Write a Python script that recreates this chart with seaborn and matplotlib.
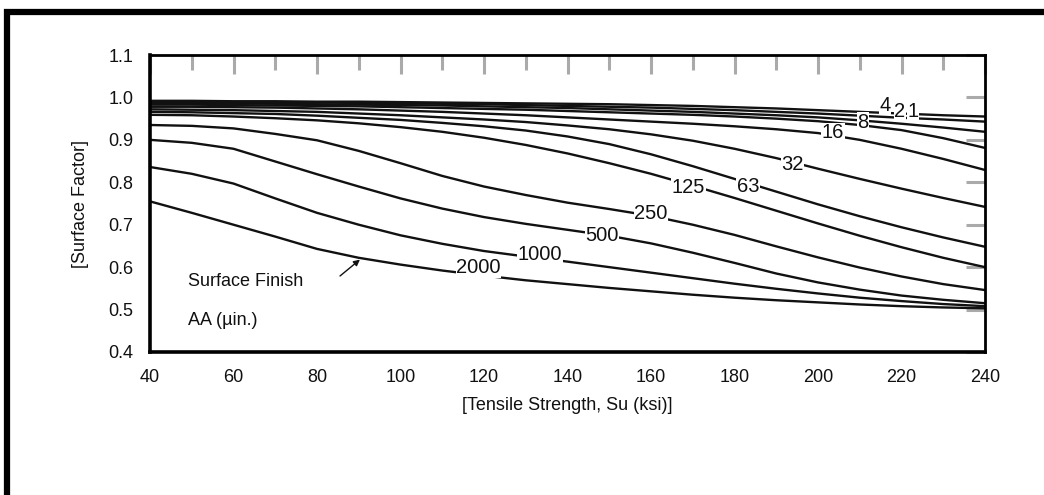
import numpy as np
import pandas as pd
import matplotlib
matplotlib.use("Agg")
import matplotlib.pyplot as plt
from matplotlib.patches import Rectangle
import seaborn as sns

# ---- data ----
su = [40, 50, 60, 70, 80, 90, 100, 110, 120, 130, 140,
      150, 160, 170, 180, 190, 200, 210, 220, 230, 240]
finish = ["1", "2", "4", "8", "16", "32", "63", "125", "250", "500", "1000", "2000"]
f1    = [.992, .992, .991, .991, .990, .990, .989, .988, .987, .986, .985,
         .984, .982, .980, .977, .974, .970, .966, .962, .958, .955]
f2    = [.990, .990, .989, .989, .988, .987, .986, .985, .984, .982, .980,
         .978, .976, .973, .970, .966, .962, .957, .952, .948, .943]
f4    = [.987, .987, .986, .985, .984, .983, .982, .981, .979, .977, .975,
         .972, .969, .966, .962, .958, .953, .946, .938, .929, .919]
f8    = [.983, .983, .982, .981, .980, .979, .977, .975, .973, .971, .968,
         .965, .962, .959, .955, .950, .944, .935, .923, .904, .881]
f16   = [.978, .978, .977, .976, .974, .972, .969, .966, .962, .958, .953,
         .948, .943, .938, .932, .925, .916, .900, .879, .855, .829]
f32   = [.972, .971, .970, .968, .966, .962, .958, .953, .948, .942, .934,
         .925, .913, .898, .879, .857, .832, .808, .785, .763, .742]
f63   = [.966, .965, .963, .961, .957, .952, .947, .940, .932, .922, .908,
         .890, .866, .838, .808, .778, .748, .720, .694, .670, .648]
f125  = [.959, .958, .955, .951, .946, .939, .930, .919, .905, .888, .868,
         .845, .820, .792, .763, .733, .703, .674, .647, .622, .600]
f250  = [.935, .933, .927, .914, .899, .874, .845, .815, .790, .770, .752,
         .737, .721, .700, .676, .649, .623, .599, .578, .560, .546]
f500  = [.900, .893, .879, .849, .819, .790, .762, .738, .718, .702, .688,
         .674, .656, .634, .610, .585, .564, .547, .533, .523, .515]
f1000 = [.836, .820, .797, .762, .728, .700, .675, .655, .638, .625, .613,
         .600, .587, .574, .561, .549, .538, .528, .520, .513, .508]
f2000 = [.755, .728, .700, .672, .643, .622, .606, .592, .580, .569, .560,
         .551, .543, .535, .528, .522, .517, .512, .508, .505, .503]
series = [f1, f2, f4, f8, f16, f32, f63, f125, f250, f500, f1000, f2000]

# curve label positions (Su, factor)
lab_text = ["2000", "1000", "500", "250", "125", "63", "32", "16", "8", "4", "2", "1"]
lab_x    = [118.6, 133.4, 148.3, 160.0, 169.0, 183.2, 193.8, 203.6, 210.8, 216.0, 219.6, 222.8]
lab_y    = [0.598, 0.629, 0.674, 0.727, 0.788, 0.791, 0.843, 0.917, 0.942, 0.982, 0.966, 0.968]

xticks = [40, 60, 80, 100, 120, 140, 160, 180, 200, 220, 240]
yticks = [0.4, 0.5, 0.6, 0.7, 0.8, 0.9, 1.0, 1.1]

df = pd.DataFrame({
    "Su": np.tile(su, len(finish)),
    "factor": np.concatenate(series),
    "finish": np.repeat(finish, len(su)),
})

sns.set_theme(style="white")
plt.rcParams["font.family"] = ["Liberation Sans", "DejaVu Sans"]

fig = plt.figure(figsize=(10.44, 4.95), dpi=100)
ax = fig.add_axes([150/1044, 1-352/495, 835/1044, 297/495])

sns.lineplot(data=df, x="Su", y="factor", hue="finish", units="finish",
             estimator=None, sort=False,
             palette={f: "#111111" for f in finish}, legend=False,
             linewidth=1.7, ax=ax)

ax.set_xlim(40, 240)
ax.set_ylim(0.4, 1.1)
ax.set_xticks(xticks)
ax.set_xticklabels([str(v) for v in xticks])
ax.set_xticks(np.arange(50, 240, 20), minor=True)
ax.set_yticks(yticks)
ax.set_yticklabels([f"{v:.1f}" for v in yticks])

ax.tick_params(axis="both", which="both", direction="in", color="#aaaaaa",
               top=True, right=True, labelsize=13, labelcolor="#111111")
ax.tick_params(axis="both", which="major", length=14, width=2.2)
ax.tick_params(axis="x", which="minor", length=11, width=2.2)
ax.tick_params(axis="x", which="major", pad=12)
ax.tick_params(axis="y", which="major", pad=12)

for side in ["left", "bottom"]:
    ax.spines[side].set_linewidth(2.6)
    ax.spines[side].set_color("black")
for side in ["top", "right"]:
    ax.spines[side].set_linewidth(2.0)
    ax.spines[side].set_color("black")

ax.set_xlabel("[Tensile Strength, Su (ksi)]", fontsize=13, labelpad=8, color="#111111")
ax.set_ylabel("[Surface Factor]", fontsize=13, labelpad=14, color="#111111")

for t, x, y in zip(lab_text, lab_x, lab_y):
    ax.text(x, y, t, fontsize=14.5, ha="center", va="center", color="#111111",
            bbox=dict(boxstyle="square,pad=0.02", fc="white", ec="none"), zorder=5)

ax.text(49.2, 0.565, "Surface Finish", fontsize=13, ha="left", va="center", color="#111111")
ax.text(49.2, 0.475, "AA (\u00b5in.)", fontsize=13, ha="left", va="center", color="#111111")
ax.annotate("", xy=(90.8, 0.622), xytext=(85.0, 0.575),
            arrowprops=dict(arrowstyle="-|>", color="#111111", lw=1.0,
                            mutation_scale=9))

# outer frame (top and left edges visible in the reference)
fig.add_artist(Rectangle((7/1044, -0.2), 1.2, 1.2 - 12/495, transform=fig.transFigure,
                         fill=False, ec="black", lw=4.5, clip_on=False))

fig.savefig("out.png", dpi=100)
